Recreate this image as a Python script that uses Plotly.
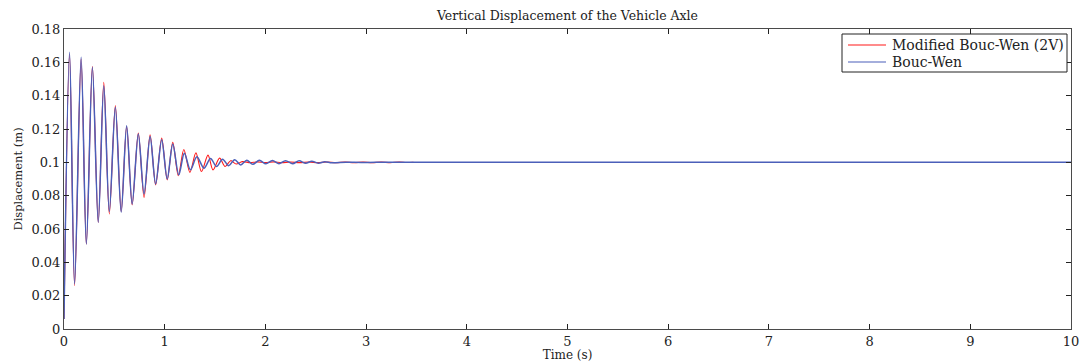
import plotly.graph_objects as go

# Extrema of the axle response, read at peaks and troughs (time in s, displacement in m)
t_modified = [0.000, 0.055, 0.105, 0.170, 0.222, 0.282, 0.340, 0.395, 0.450, 0.510,
              0.568, 0.622, 0.677, 0.738, 0.795, 0.855, 0.910, 0.970, 1.025, 1.080,
              1.135, 1.190, 1.250, 1.310, 1.365, 1.430, 1.480, 1.545, 1.600, 1.655,
              1.710, 1.770, 1.850, 1.920, 2.000, 2.080, 2.160, 2.250, 2.340, 2.430,
              2.520, 2.610, 2.700, 2.790, 2.880, 2.970, 3.060, 3.150, 3.240, 3.330,
              3.400, 3.470]
y_modified = [0.006, 0.165, 0.026, 0.162, 0.051, 0.1575, 0.064, 0.148, 0.069, 0.134,
              0.0705, 0.1215, 0.0745, 0.1175, 0.079, 0.1165, 0.0865, 0.1145, 0.0895, 0.112,
              0.092, 0.1077, 0.094, 0.1057, 0.0945, 0.1043, 0.0955, 0.1025, 0.0975, 0.1010,
              0.0990, 0.1004, 0.0998, 0.1003, 0.0998, 0.1003, 0.0998, 0.1002, 0.0998, 0.1002,
              0.0998, 0.1002, 0.0998, 0.1002, 0.0998, 0.1002, 0.0998, 0.1002, 0.0998, 0.1002,
              0.0999, 0.1000]

t_boucwen = [0.000, 0.055, 0.105, 0.170, 0.222, 0.282, 0.340, 0.395, 0.450, 0.510,
             0.568, 0.622, 0.677, 0.738, 0.795, 0.855, 0.910, 0.970, 1.025, 1.080,
             1.140, 1.195, 1.255, 1.320, 1.390, 1.455, 1.515, 1.575, 1.635, 1.695,
             1.755, 1.815, 1.875, 1.940, 2.005, 2.070, 2.135, 2.200, 2.270, 2.335,
             2.400, 2.460, 2.525, 2.590, 2.660, 2.800, 2.950, 3.100, 10.000]
y_boucwen = [0.006, 0.166, 0.027, 0.163, 0.051, 0.157, 0.064, 0.146, 0.0705, 0.133,
             0.070, 0.122, 0.075, 0.117, 0.081, 0.1155, 0.087, 0.1135, 0.090, 0.111,
             0.0925, 0.1055, 0.0955, 0.1033, 0.0965, 0.1023, 0.0975, 0.1019, 0.0980, 0.1016,
             0.0984, 0.1013, 0.0988, 0.1012, 0.0991, 0.1011, 0.0992, 0.1010, 0.0992, 0.1009,
             0.0994, 0.1007, 0.0995, 0.1004, 0.0997, 0.1001, 0.0999, 0.1000, 0.1000]

x_ticks = list(range(0, 11))
y_ticks = [0, 0.02, 0.04, 0.06, 0.08, 0.1, 0.12, 0.14, 0.16, 0.18]
y_tick_labels = ["0", "0.02", "0.04", "0.06", "0.08", "0.1", "0.12", "0.14", "0.16", "0.18"]

series_names = ["Modified Bouc-Wen (2V)", "Bouc-Wen"]
series_colors = ["rgb(255,25,25)", "rgb(75,95,185)"]

FONT = "DejaVu Serif"
TEXT = "#222"

# Plot area in pixels
W, H = 1085, 362
L, R, T, B = 64, 1071, 29, 329


def px(xp):
    return (xp - L) / (R - L)


def py(yp):
    return (B - yp) / (B - T)


fig = go.Figure()
fig.add_trace(go.Scatter(
    x=t_modified, y=y_modified, mode="lines", name=series_names[0],
    line=dict(color=series_colors[0], width=1.1, shape="spline", smoothing=0.9),
    showlegend=False,
))
fig.add_trace(go.Scatter(
    x=t_boucwen, y=y_boucwen, mode="lines", name=series_names[1],
    line=dict(color=series_colors[1], width=1.5, shape="spline", smoothing=0.9),
    showlegend=False,
))

axis_common = dict(
    showline=True, linecolor="#4a4a4a", linewidth=1, mirror="ticks",
    ticks="inside", ticklen=5, tickcolor=TEXT, tickwidth=1,
    showgrid=False, zeroline=False, automargin=False,
    tickfont=dict(family=FONT, size=13, color=TEXT),
)

# Boxed legend in the upper-right corner of the axes
shapes = [dict(type="rect", xref="paper", yref="paper",
               x0=px(842), x1=px(1067), y0=py(72), y1=py(34),
               line=dict(color=TEXT, width=1), fillcolor="white", layer="above")]
annotations = []
for i, (name, color) in enumerate(zip(series_names, series_colors)):
    yl = 45 + 17 * i
    shapes.append(dict(type="line", xref="paper", yref="paper",
                       x0=px(848), x1=px(886), y0=py(yl), y1=py(yl),
                       line=dict(color=color, width=1.2), layer="above"))
    annotations.append(dict(xref="paper", yref="paper", x=px(890), y=py(yl),
                            xanchor="left", yanchor="middle", showarrow=False,
                            text=name, font=dict(family=FONT, size=14, color=TEXT)))

fig.update_layout(
    width=W, height=H,
    margin=dict(l=L, r=W - R, t=T, b=H - B),
    paper_bgcolor="white", plot_bgcolor="white",
    title=dict(text="Vertical Displacement of the Vehicle Axle",
               font=dict(family=FONT, size=12.5, color=TEXT),
               x=(L + R) / 2 / W, xanchor="center", y=1 - 16 / H, yanchor="middle"),
    xaxis=dict(range=[0, 10], tickvals=x_ticks,
               title=dict(text="Time (s)", font=dict(family=FONT, size=12, color=TEXT), standoff=2),
               **axis_common),
    yaxis=dict(range=[0, 0.18], tickvals=y_ticks, ticktext=y_tick_labels,
               title=dict(text="Displacement (m)", font=dict(family=FONT, size=11.5, color=TEXT), standoff=6),
               **axis_common),
    shapes=shapes,
    annotations=annotations,
    showlegend=False,
)

fig.write_html("out.html")
